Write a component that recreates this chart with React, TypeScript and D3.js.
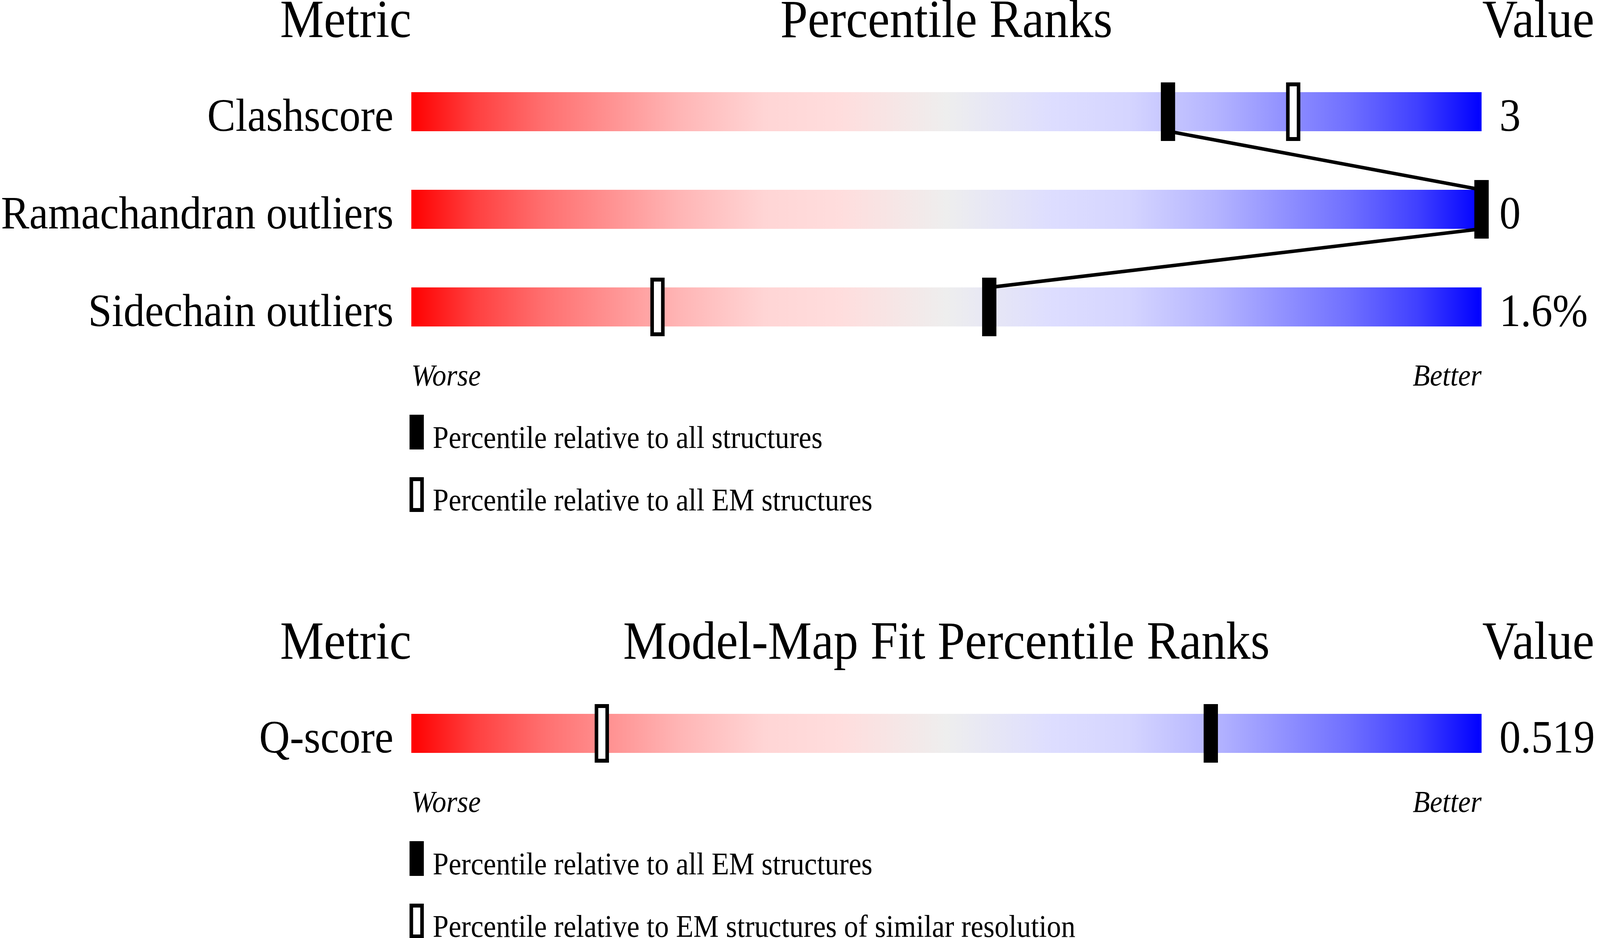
import * as d3 from "d3";

// Validation panel (top)
const validationMetrics = ["Clashscore", "Ramachandran outliers", "Sidechain outliers"];
const validationValues = ["3", "0", "1.6%"];
const pctAllStructures = [70.7, 100, 54.0];
const pctAllEM = [82.4, 100, 23.0];
const validationLegend = [
  "Percentile relative to all structures",
  "Percentile relative to all EM structures",
];

// Model-map fit panel (bottom)
const fitMetrics = ["Q-score"];
const fitValues = ["0.519"];
const pctFitAllEM = [74.7];
const pctFitSimilarRes = [17.8];
const fitLegend = [
  "Percentile relative to all EM structures",
  "Percentile relative to EM structures of similar resolution",
];

const W = 4485;
const H = 2402;
const SERIF = "'Liberation Serif', 'Times New Roman', serif";

const BAR_H = 100;
const MARK_W = 40;
const MARK_H = 150;
const ROW_STEP = 250;

const gradientStops: [number, string][] = [
  [0, "#ff0000"],
  [0.06, "#ff4040"],
  [0.125, "#ff7070"],
  [0.25, "#ffb5b5"],
  [0.33, "#ffd5d5"],
  [0.4, "#ffdddd"],
  [0.5, "#eeeeee"],
  [0.6, "#ddddff"],
  [0.67, "#d5d5ff"],
  [0.75, "#b5b5ff"],
  [0.875, "#7070ff"],
  [0.94, "#4040ff"],
  [1, "#0000ff"],
];

const x = d3.scaleLinear().domain([0, 100]).range([1153, 4153]);

interface PanelProps {
  top: number; // header baseline
  title: string;
  metrics: string[];
  values: string[];
  filled: number[];
  open: number[];
  legend: string[];
}

function Panel({ top, title, metrics, values, filled, open, legend }: PanelProps) {
  const barTop = d3
    .scaleLinear()
    .domain([0, 1])
    .range([top + 141, top + 141 + ROW_STEP]);
  const lastBottom = barTop(metrics.length - 1) + BAR_H;
  const worseY = lastBottom + 151;
  const legendTop = worseY + 75;

  const links = filled.slice(1).map((p, i) => ({
    x1: x(filled[i]),
    y1: barTop(i) + BAR_H,
    x2: x(p),
    y2: barTop(i + 1),
  }));

  return (
    <g>
      <text x={x(0)} y={top} fontSize={138} textAnchor="end" fontFamily={SERIF}>
        Metric
      </text>
      <text x={(x(0) + x(100)) / 2} y={top} fontSize={138} textAnchor="middle" fontFamily={SERIF}>
        {title}
      </text>
      <text x={x(100) + 2} y={top} fontSize={138} textAnchor="start" fontFamily={SERIF}>
        Value
      </text>

      {metrics.map((m, i) => (
        <g key={m}>
          <rect x={x(0)} y={barTop(i)} width={x(100) - x(0)} height={BAR_H} fill="url(#slider)" />
          <text
            x={x(0) - 50}
            y={barTop(i) + BAR_H - 1}
            fontSize={119}
            textAnchor="end"
            fontFamily={SERIF}
          >
            {m}
          </text>
          <text x={x(100) + 50} y={barTop(i) + BAR_H - 1} fontSize={119} fontFamily={SERIF}>
            {values[i]}
          </text>
        </g>
      ))}

      {links.map((l, i) => (
        <line key={i} x1={l.x1} y1={l.y1} x2={l.x2} y2={l.y2} stroke="#000" strokeWidth={9} />
      ))}

      {metrics.map((m, i) => (
        <g key={`mk-${m}`}>
          {open[i] != null && (
            <rect
              x={x(open[i]) - MARK_W / 2 + 5}
              y={barTop(i) - (MARK_H - BAR_H) / 2 + 5}
              width={MARK_W - 10}
              height={MARK_H - 10}
              fill="#fff"
              stroke="#000"
              strokeWidth={10}
            />
          )}
          <rect
            x={x(filled[i]) - MARK_W / 2}
            y={barTop(i) - (MARK_H - BAR_H) / 2}
            width={MARK_W}
            height={MARK_H}
            fill="#000"
          />
        </g>
      ))}

      <text x={x(0)} y={worseY} fontSize={79} fontStyle="italic" fontFamily={SERIF}>
        Worse
      </text>
      <text x={x(100)} y={worseY} fontSize={79} fontStyle="italic" textAnchor="end" fontFamily={SERIF}>
        Better
      </text>

      {legend.map((label, i) => (
        <g key={label} transform={`translate(0, ${legendTop + i * 160})`}>
          {i === 0 ? (
            <rect x={x(0) - 5} y={0} width={MARK_W} height={89} fill="#000" />
          ) : (
            <rect
              x={x(0)}
              y={5}
              width={MARK_W - 10}
              height={79}
              fill="#fff"
              stroke="#000"
              strokeWidth={10}
            />
          )}
          <text x={x(0) + 60} y={85} fontSize={80} fontFamily={SERIF}>
            {label}
          </text>
        </g>
      ))}
    </g>
  );
}

export default function App() {
  return (
    <div
      style={{
        position: "fixed",
        left: 0,
        top: 0,
        width: "100vw",
        height: "100vh",
        overflow: "hidden",
        background: "#fff",
      }}
    >
      <svg
        viewBox={`0 0 ${W} ${H}`}
        preserveAspectRatio="none"
        style={{ display: "block", width: "100%", height: "100%" }}
      >
        <defs>
          <linearGradient id="slider" x1="0" x2="1" y1="0" y2="0">
            {gradientStops.map(([o, c]) => (
              <stop key={o} offset={o} stopColor={c} />
            ))}
          </linearGradient>
        </defs>
        <rect width={W} height={H} fill="#fff" />
        <Panel
          top={95}
          title="Percentile Ranks"
          metrics={validationMetrics}
          values={validationValues}
          filled={pctAllStructures}
          open={pctAllEM}
          legend={validationLegend}
        />
        <Panel
          top={1687}
          title="Model-Map Fit Percentile Ranks"
          metrics={fitMetrics}
          values={fitValues}
          filled={pctFitAllEM}
          open={pctFitSimilarRes}
          legend={fitLegend}
        />
      </svg>
    </div>
  );
}
